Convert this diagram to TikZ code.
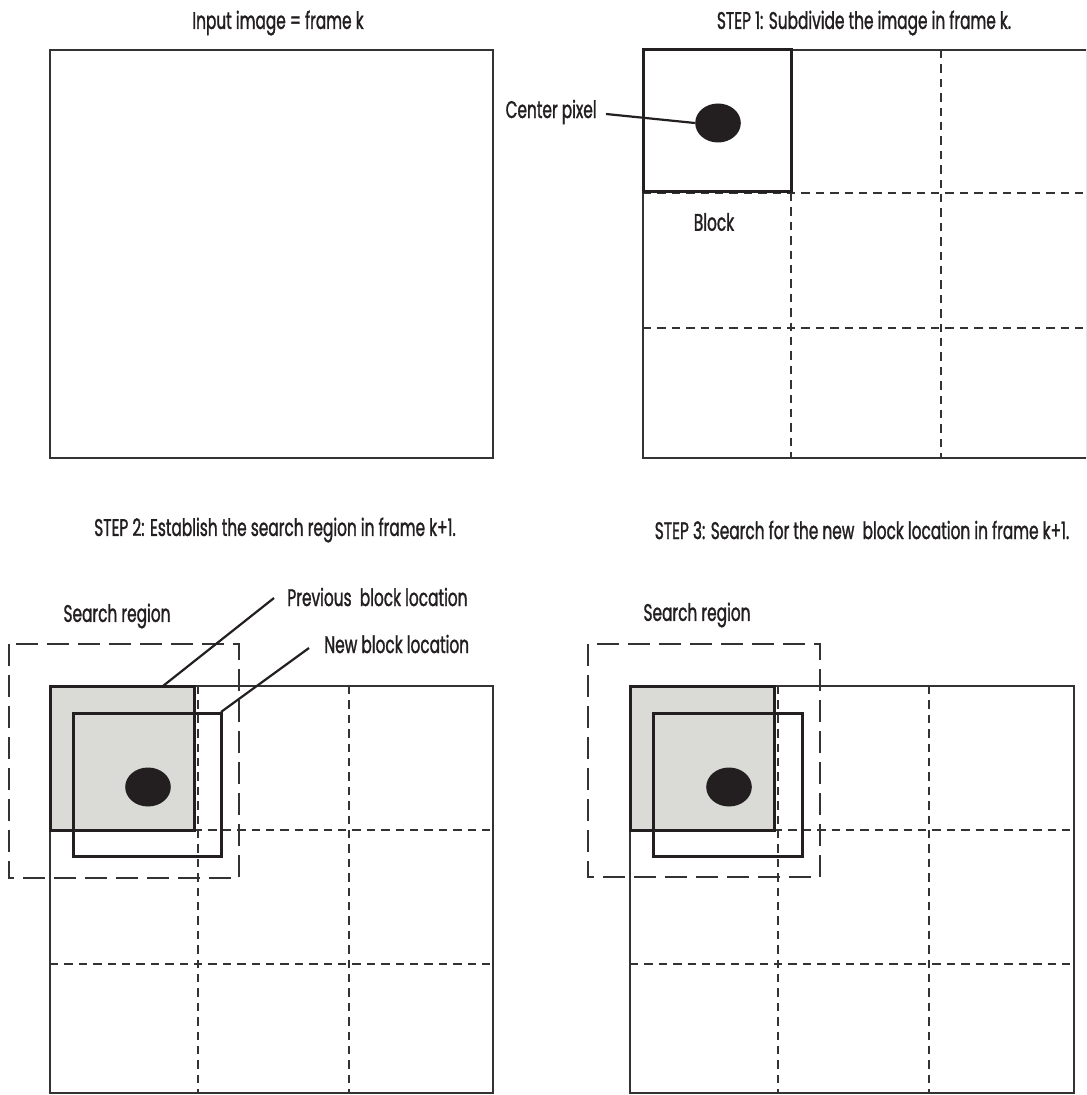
\documentclass[tikz,border=0pt]{standalone}
\usepackage{fontspec}
\setmainfont{Poppins}[FakeStretch=0.64,FakeBold=1.2]
\usetikzlibrary{shapes.geometric}
\definecolor{ln}{HTML}{333333}
\definecolor{blk}{HTML}{231F20}
\definecolor{gfill}{HTML}{DADBD6}
\begin{document}
\begin{tikzpicture}[x=0.5pt,y=-0.5pt,
  frame/.style={draw=ln, line width=1.25pt},
  gridline/.style={draw=ln, line width=1.2pt, dash pattern=on 4.2pt off 3pt},
  blockbox/.style={draw=blk, line width=1.5pt},
  searchbox/.style={draw=ln, line width=1.3pt, dash pattern=on 11pt off 4.5pt},
  pixel/.style={ellipse, fill=blk, minimum width=22.8pt, minimum height=19.5pt, inner sep=0pt},
  lbl/.style={font=\fontsize{12}{14}\selectfont, text=blk, inner sep=0pt},
  leader/.style={draw=blk, line width=1.1pt}]
\useasboundingbox (0,0) rectangle (1086,1095);
\clip (0,0) rectangle (1086,1095);
\fill[white] (0,0) rectangle (1086,1095);

% Panel 1
\node[lbl] (t1) at (278,23) {Input image = frame k};
\draw[frame] (50,50) rectangle (493,458);

% Panel 2
\node[lbl] (t2) at (864,23) {STEP 1: Subdivide the image in frame k.};
\draw[frame] (643,50) rectangle (1087,458);
\draw[gridline] (791,193) -- (791,458);
\draw[gridline] (941,50) -- (941,458);
\draw[gridline] (643,193) -- (1087,193);
\draw[gridline] (643,328) -- (1087,328);
\draw[blockbox] (643,50) rectangle (791,192);
\node[pixel] (p1) at (718,123) {};
\node[lbl, anchor=east] (cp) at (597,112) {Center pixel};
\coordinate (cpl) at (606,114);
\draw[leader] (cpl) -- (p1.west);
\node[lbl] (blkl) at (714,222) {Block};

% Panel 3
\node[lbl] (t3) at (275,530) {STEP 2: Establish the search region in frame k+1.};
\begin{scope}
\draw[frame] (50,686) rectangle (493,1093);
\fill[gfill] (50,686) rectangle (194,830);
\draw[gridline] (198,686) -- (198,1093);
\draw[gridline] (349,686) -- (349,1093);
\draw[gridline] (50,830) -- (490,830);
\draw[gridline] (50,964) -- (490,964);
\draw[blockbox] (50,686) rectangle (194,830);
\draw[blockbox] (73,713) rectangle (221,856);
\node[pixel] (p2) at (148,787) {};
\draw[searchbox] (9,644) rectangle (239,878);
\end{scope}
\node[lbl] (sr1) at (117,616) {Search region};
\node[lbl, anchor=west] (pb) at (287,597) {Previous\ \ block location};
\node[lbl, anchor=west] (nb) at (324,644) {New block location};
\coordinate (pbs) at (163,686);
\coordinate (pbe) at (274,598);
\coordinate (nbs) at (221,712);
\coordinate (nbe) at (309,648);
\draw[leader] (pbs) -- (pbe);
\draw[leader] (nbs) -- (nbe);

% Panel 4
\node[lbl] (t4) at (862,530) {STEP 3: Search for the new\ \ block location in frame k+1.};
\begin{scope}[shift={(580,0)}]
\draw[frame] (50,686) rectangle (494,1093);
\fill[gfill] (50,686) rectangle (194,830);
\draw[gridline] (198,686) -- (198,1093);
\draw[gridline] (349,686) -- (349,1093);
\draw[gridline] (50,830) -- (490,830);
\draw[gridline] (50,964) -- (490,964);
\draw[blockbox] (50,686) rectangle (194,830);
\draw[blockbox] (73,713) rectangle (222,856);
\node[pixel] (p3) at (149,787) {};
\draw[searchbox] (8,644) rectangle (240,877);
\end{scope}
\node[lbl] (sr2) at (697,615) {Search region};
\end{tikzpicture}
\end{document}
